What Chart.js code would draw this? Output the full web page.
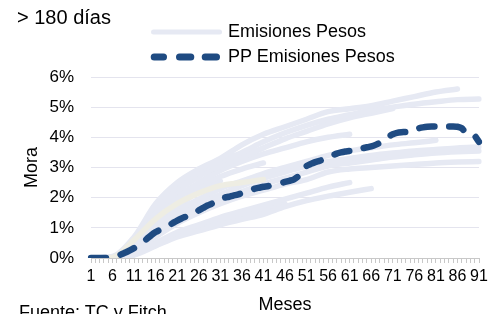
<!DOCTYPE html>
<html><head><meta charset="utf-8">
<script src="https://cdn.jsdelivr.net/npm/chart.js@4/dist/chart.umd.min.js"></script>
<style>
html,body{margin:0;padding:0;background:#fff;}
#wrap{position:relative;width:501px;height:314px;overflow:hidden;font-family:'Liberation Sans',Arial,sans-serif;color:#000;}
#wrap canvas{position:absolute;left:0;top:0;}
.t{position:absolute;white-space:nowrap;}
</style></head><body>
<div id="wrap">
<canvas id="c" width="501" height="314"></canvas>
<div class="t" style="left:17px;top:7px;font-size:20px;line-height:20px;">&gt; 180 días</div>
<svg style="position:absolute;left:0;top:0" width="501" height="75">
  <line x1="153.5" y1="32" x2="219.5" y2="32" stroke="#E6E9F3" stroke-width="5" stroke-linecap="round"/>
  <g stroke="#1F4B82" stroke-width="7" stroke-linecap="round">
    <line x1="154.2" y1="57" x2="163.5" y2="57"/>
    <line x1="179.5" y1="57" x2="190.8" y2="57"/>
    <line x1="205.2" y1="57" x2="216.5" y2="57"/>
  </g>
</svg>
<div class="t" style="left:228px;top:22px;font-size:18px;line-height:18px;">Emisiones Pesos</div>
<div class="t" style="left:228px;top:47px;font-size:18px;line-height:18px;">PP Emisiones Pesos</div>
<div class="t" style="left:19px;top:303px;font-size:18px;line-height:18px;">Fuente: TC y Fitch</div>
</div>
<script>
// Categories (months)
const months = [1,2,3,4,5,6,7,8,9,10,11,12,13,14,15,16,17,18,19,20,21,22,23,24,25,26,27,28,29,30,
  31,32,33,34,35,36,37,38,39,40,41,42,43,44,45,46,47,48,49,50,51,52,53,54,55,56,57,58,59,60,
  61,62,63,64,65,66,67,68,69,70,71,72,73,74,75,76,77,78,79,80,81,82,83,84,85,86,87,88,89,90,91];
const yTickLabels = ['0%','1%','2%','3%','4%','5%','6%'];

// PP Emisiones Pesos (% mora, one value per month)
const ppEmisiones = [0,0,0,0,0, 0.01,0.05,0.12,0.18,0.25, 0.33,0.42,0.52,0.64,0.76,
  0.86,0.93,1.0,1.08,1.16, 1.24,1.31,1.37,1.43,1.5, 1.58,1.66,1.74,1.8,1.86,
  1.93,2.0,2.03,2.07,2.1, 2.15,2.2,2.25,2.3,2.33, 2.36,2.38,2.41,2.45,2.48,
  2.52,2.56,2.6,2.7,2.88, 3.05,3.12,3.18,3.22,3.27, 3.33,3.4,3.46,3.5,3.53,
  3.55,3.58,3.61,3.64,3.67, 3.7,3.75,3.82,3.92,4.02, 4.1,4.15,4.17,4.18,4.2,
  4.25,4.3,4.33,4.35,4.36, 4.36,4.35,4.35,4.36,4.36, 4.35,4.3,4.15,4.12,4.05, 3.85];

// Individual issues: values read at these months
const sampleMonths = [1,6,11,16,21,26,31,36,41,46,51,56,61,66,71,76,81,86,91];
const emision01 = [0,0.05,0.7,1.8,2.5,2.95,3.3,3.75,4.1,4.35,4.6,4.85,4.95,5.05,5.2,5.35,5.5,5.6];
const emision02 = [0,0.04,0.6,1.6,2.35,2.85,3.2,3.5,3.85,4.15,4.4,4.6,4.75,4.9,5.0,5.1,5.18,5.25,5.27];
const emision03 = [0,0.03,0.55,1.45,2.2,2.7,3.05,3.35,3.65,3.95,4.2,4.45,4.65,4.8,4.95];
const emision04 = [0,0.03,0.5,1.3,2.0,2.5,2.9,3.2,3.45,3.65,3.85,4.0,4.1];
const emision05 = [0,0.02,0.45,1.2,1.85,2.35,2.7,2.95,3.15];
const emision06 = [0,0.02,0.4,1.1,1.7,2.2,2.55];
const emision07 = [0,0.02,0.35,1.0,1.55,1.95,2.3,2.55,2.8,3.0,3.2,3.4,3.55,3.65,3.75,3.82,3.9];
const emision08 = [0,0.02,0.3,0.9,1.4,1.8,2.1,2.4,2.65,2.85,3.05,3.2,3.3,3.4,3.48,3.55,3.6,3.65,3.68];
const emision09 = [0,0.01,0.25,0.8,1.3,1.65,1.95,2.2,2.45,2.65,2.85,3.05,3.15,3.25,3.35,3.42,3.48,3.52,3.55];
const emision10 = [0,0.01,0.2,0.7,1.15,1.5,1.8,2.05,2.25,2.45,2.6,2.85,2.95,3.0,3.05,3.1,3.15,3.18,3.2];
const emision11 = [0,0.01,0.15,0.5,0.85,1.1,1.35,1.55,1.75,1.95,2.15,2.35,2.5];
const emision12 = [0,0,0.1,0.4,0.7,0.9,1.1,1.28,1.45,1.7,1.9,2.05,2.18,2.3];
const emision13 = [0,0,0.12,0.45,0.75,1.0,1.2,1.4,1.6,1.8];
const emisionBeige = [0,0.02,0.6,1.3,1.8,2.15,2.4,2.5,2.6];

const lightSeries = [emision01,emision02,emision03,emision04,emision05,emision06,emision07,
  emision08,emision09,emision10,emision11,emision12,emision13];

const FONT = "'Liberation Sans', Arial, sans-serif";
Chart.defaults.font.family = FONT;
Chart.defaults.color = '#000';

function toPoints(vals){ return vals.map((v,i)=>({x: sampleMonths[i], y: v})); }

const datasets = [{
  label: 'PP Emisiones Pesos', data: ppEmisiones, borderColor: '#1F4B82', borderWidth: 6.5,
  borderDash: [15,15], borderCapStyle: 'round', borderJoinStyle: 'round',
  pointRadius: 0, tension: 0.2, order: 0
},{
  label: 'beige', data: toPoints(emisionBeige), borderColor: '#EEEDE3', borderWidth: 5.5,
  borderCapStyle: 'round', borderJoinStyle: 'round', pointRadius: 0,
  cubicInterpolationMode: 'monotone', order: 1
}];
lightSeries.forEach((s,k)=>datasets.push({
  label: 'Emisiones Pesos', data: toPoints(s), borderColor: '#E6E9F3', borderWidth: 5.5,
  borderCapStyle: 'round', borderJoinStyle: 'round', pointRadius: 0,
  cubicInterpolationMode: 'monotone', order: 2
}));

new Chart(document.getElementById('c'), {
  type: 'line',
  data: { labels: months, datasets },
  options: {
    responsive: false, animation: false, devicePixelRatio: 1,
    layout: { padding: { left: 0, right: 22, top: 77, bottom: 0 } },
    plugins: { legend: { display: false }, tooltip: { enabled: false }, title: { display: false } },
    scales: {
      x: {
        type: 'category', offset: false,
        grid: { display: true, drawOnChartArea: false, drawTicks: true, tickLength: 5, color: '#C8C8C8', lineWidth: 1 },
        border: { display: true, color: '#C8C8C8', width: 1 },
        ticks: { autoSkip: false, maxRotation: 0, minRotation: 0, padding: 4, color: '#000',
          font: { size: 16 }, callback: (v, i) => (i % 5 === 0 ? String(months[i]) : '') },
        title: { display: true, text: 'Meses', color: '#000', font: { size: 18, lineHeight: 1 }, padding: { top: 0, bottom: 0 } },
        afterFit: s => { s.height = 56; }
      },
      y: {
        min: 0, max: 6,
        ticks: { stepSize: 1, padding: 17, color: '#000', font: { size: 17 },
          callback: (v) => yTickLabels[Math.round(v)] },
        grid: { color: '#E4E4EE', drawTicks: false, lineWidth: 1 },
        border: { display: false },
        title: { display: true, text: 'Mora', color: '#000', font: { size: 18 }, padding: { top: 21, bottom: 0 } },
        afterFit: s => { s.width = 91; }
      }
    }
  }
});
</script>
</body></html>
